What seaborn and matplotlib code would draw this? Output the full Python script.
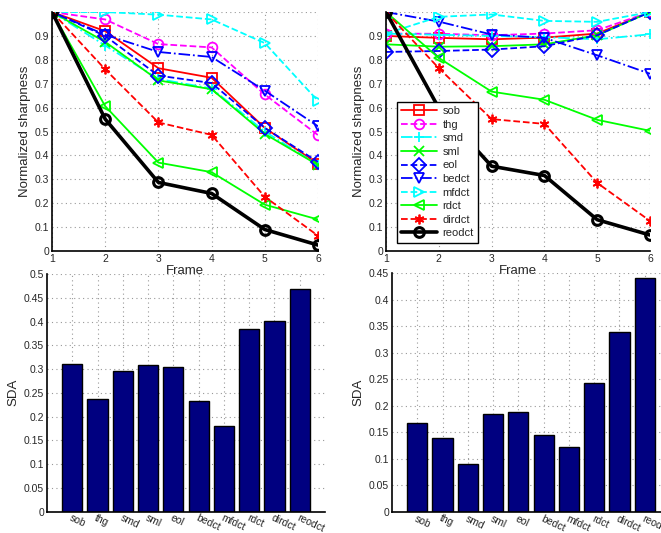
import numpy as np
import pandas as pd
import seaborn as sns
import matplotlib
matplotlib.use("Agg")
import matplotlib.pyplot as plt

methods = ["sob", "thg", "smd", "sml", "eol", "bedct", "mfdct", "rdct", "dirdct", "reodct"]
frames = [1, 2, 3, 4, 5, 6]

# normalized sharpness, left sequence
left_sob = [1.0, 0.92, 0.765, 0.725, 0.515, 0.365]
left_thg = [1.0, 0.969, 0.866, 0.852, 0.655, 0.485]
left_smd = [1.0, 0.86, 0.72, 0.68, 0.50, 0.36]
left_sml = [1.0, 0.875, 0.714, 0.677, 0.49, 0.36]
left_eol = [1.0, 0.90, 0.734, 0.703, 0.515, 0.373]
left_bedct = [1.0, 0.905, 0.833, 0.812, 0.671, 0.522]
left_mfdct = [1.0, 1.0, 0.989, 0.969, 0.870, 0.628]
left_rdct = [1.0, 0.606, 0.370, 0.330, 0.194, 0.132]
left_dirdct = [1.0, 0.760, 0.538, 0.486, 0.227, 0.064]
left_reodct = [1.0, 0.552, 0.287, 0.241, 0.090, 0.025]

# normalized sharpness, right sequence
right_sob = [0.90, 0.892, 0.886, 0.893, 0.91, 1.0]
right_thg = [0.91, 0.909, 0.903, 0.91, 0.924, 1.0]
right_smd = [0.91, 0.905, 0.90, 0.895, 0.886, 0.907]
right_sml = [0.865, 0.855, 0.857, 0.865, 0.903, 1.0]
right_eol = [0.833, 0.837, 0.843, 0.857, 0.903, 1.0]
right_bedct = [1.0, 0.96, 0.906, 0.892, 0.819, 0.742]
right_mfdct = [0.91, 0.98, 0.99, 0.963, 0.959, 1.0]
right_rdct = [1.0, 0.808, 0.667, 0.633, 0.549, 0.503]
right_dirdct = [1.0, 0.765, 0.552, 0.532, 0.285, 0.126]
right_reodct = [1.0, 0.598, 0.355, 0.316, 0.131, 0.067]

# SDA per method
left_sda = [0.31, 0.237, 0.296, 0.309, 0.304, 0.233, 0.180, 0.384, 0.402, 0.468]
right_sda = [0.167, 0.140, 0.090, 0.185, 0.188, 0.146, 0.122, 0.244, 0.339, 0.442]

styles = {
    "sob": ("red", "s", "-", 1.3),
    "thg": ("magenta", "o", "--", 1.3),
    "smd": ("cyan", "+", "-.", 1.3),
    "sml": ("lime", "x", "-", 1.3),
    "eol": ("blue", "D", "--", 1.3),
    "bedct": ("blue", "v", "-.", 1.3),
    "mfdct": ("cyan", ">", "--", 1.3),
    "rdct": ("lime", "<", "-", 1.3),
    "dirdct": ("red", (6, 2, 0), "--", 1.3),
    "reodct": ("black", "o", "-", 2.6),
}

sns.set_style("white")
plt.rcParams["font.family"] = ["Liberation Sans", "DejaVu Sans"]
plt.rcParams["font.size"] = 8

fig = plt.figure(figsize=(6.61, 5.33), dpi=100)
ax_tl = fig.add_axes([0.0787, 0.529, 0.4024, 0.4484])
ax_tr = fig.add_axes([0.584, 0.529, 0.3994, 0.4484])
ax_bl = fig.add_axes([0.0711, 0.0403, 0.4206, 0.4456])
ax_br = fig.add_axes([0.593, 0.0395, 0.4206, 0.4475])


def style_axes(ax):
    ax.grid(True, linestyle=(0, (1, 3)), color="0.6", linewidth=0.8)
    ax.set_axisbelow(True)
    for s in ["top", "right"]:
        ax.spines[s].set_visible(False)
    for s in ["left", "bottom"]:
        ax.spines[s].set_color("black")
        ax.spines[s].set_linewidth(1.2)
    ax.tick_params(direction="in", length=3, width=0.8, labelsize=7.5, pad=2)
    ax.patch.set_alpha(0)


def line_panel(ax, series):
    for name, vals in zip(methods, series):
        color, marker, ls, lw = styles[name]
        sns.lineplot(x=frames, y=vals, ax=ax, color=color, marker=marker,
                     linestyle=ls, linewidth=lw, markersize=7,
                     markerfacecolor="none" if marker not in ("+", "x", (6, 2, 0)) else color,
                     markeredgecolor=color, markeredgewidth=1.3 if name != "reodct" else 2.2,
                     label=name, legend=False)
    ax.set_xlim(1, 6)
    ax.set_ylim(0, 1.0)
    ax.set_xticks(frames)
    ax.set_yticks(np.arange(0, 1.01, 0.1))
    ax.set_yticklabels([f"{v:g}" for v in np.arange(0, 0.95, 0.1).round(1)] + [""])
    ax.set_xlabel("Frame", fontsize=9.5, labelpad=1)
    ax.set_ylabel("Normalized sharpness", fontsize=9.5, labelpad=3)
    style_axes(ax)


line_panel(ax_tl, [left_sob, left_thg, left_smd, left_sml, left_eol,
                   left_bedct, left_mfdct, left_rdct, left_dirdct, left_reodct])
line_panel(ax_tr, [right_sob, right_thg, right_smd, right_sml, right_eol,
                   right_bedct, right_mfdct, right_rdct, right_dirdct, right_reodct])

leg = ax_tr.legend(loc="lower left", bbox_to_anchor=(0.02, 0.012), fontsize=8,
                   handlelength=3.2, labelspacing=0.32, borderpad=0.4,
                   handletextpad=0.5, fancybox=False, framealpha=1)
leg.get_frame().set_edgecolor("black")
leg.get_frame().set_linewidth(1.0)


def bar_panel(ax, sda, ymax, step):
    df = pd.DataFrame({"method": methods, "sda": sda})
    sns.barplot(data=df, x="method", y="sda", ax=ax, color="#000080",
                saturation=1, edgecolor="black", linewidth=1.0, width=0.8)
    ax.set_xlim(-1, 10)
    ax.set_ylim(0, ymax)
    ax.set_yticks(np.arange(0, ymax + 1e-9, step))
    ax.set_yticklabels([f"{v:g}" for v in np.arange(0, ymax + 1e-9, step).round(2)])
    ax.set_xlabel("")
    ax.set_ylabel("SDA", fontsize=9.5, labelpad=3)
    style_axes(ax)
    ax.tick_params(axis="x", length=0, pad=1, labelsize=7.5)
    for lab in ax.get_xticklabels():
        lab.set_rotation(-25)
        lab.set_ha("left")
        lab.set_va("top")
        lab.set_rotation_mode("anchor")


bar_panel(ax_bl, left_sda, 0.5, 0.05)
bar_panel(ax_br, right_sda, 0.45, 0.05)

fig.savefig("out.png", dpi=100)
